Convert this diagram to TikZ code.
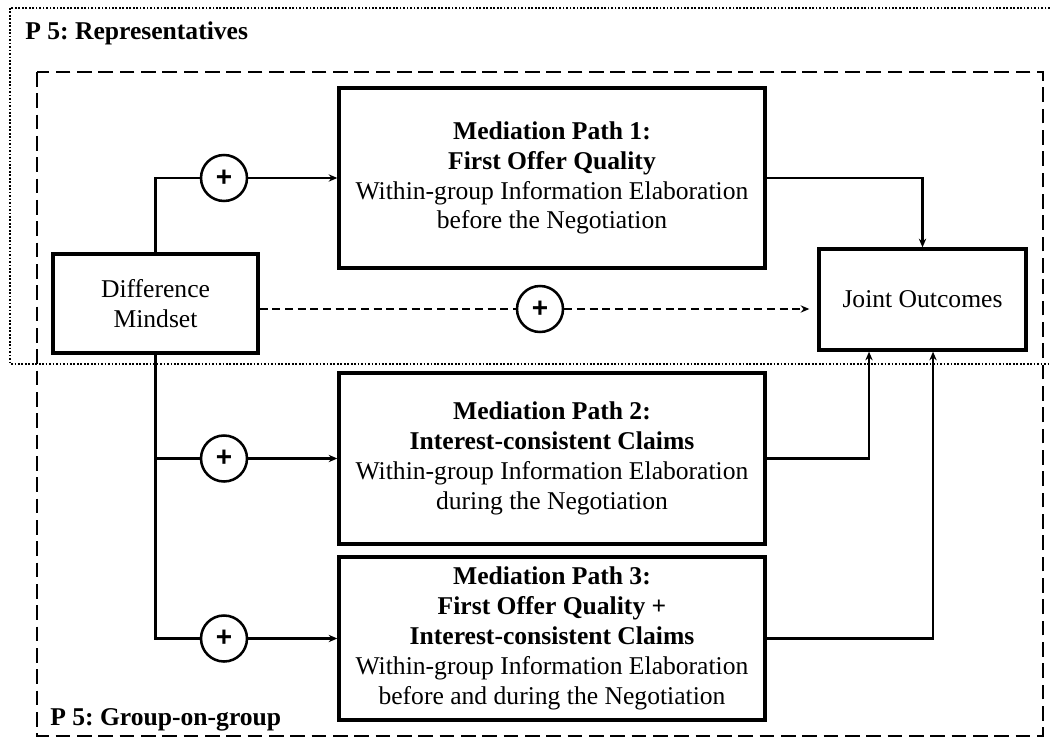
\documentclass[tikz,border=0pt]{standalone}
\usepackage{fontspec}
\setmainfont{Liberation Serif}
\newfontfamily\signfont{Liberation Sans}
\frenchspacing
\usetikzlibrary{arrows.meta,calc}

\tikzset{
  box/.style={draw, line width=2.5pt, rectangle, align=center, inner sep=0pt,
    font=\fontsize{19.2}{22.4}\selectfont},
  pathbox/.style={box, minimum width=319.5pt},
  plus/.style={draw, circle, line width=1.9pt, minimum size=34.5pt, inner sep=0pt,
    font=\fontsize{21}{21}\signfont\bfseries},
  link/.style={line width=1.9pt},
  arr/.style={link, -{Stealth[length=6.5pt,width=5.5pt]}},
  dlink/.style={link, dash pattern=on 6pt off 3.5pt},
  darr/.style={dlink, -{Stealth[length=6.5pt,width=5.5pt]}, shorten >=6pt},
  frame label/.style={anchor=base west, inner sep=0pt,
    font=\fontsize{19.2}{22}\selectfont\bfseries},
}

\begin{document}
\begin{tikzpicture}[x=0.75pt, y=-0.75pt]
\useasboundingbox (0,0) rectangle (1050,738);
\fill[white] (0,0) rectangle (1050,738);
\clip (0,0) rectangle (1050,738);

% group frames
\draw[line width=1.6pt, dash pattern=on 1.3pt off 1.3pt] (10,8) rectangle (1070,364);
\draw[line width=1.9pt, dash pattern=on 11pt off 5pt] (37,72) rectangle (1043,736);
\node[frame label] (repr) at (25,40) {P 5: Representatives};
\node[frame label] (gog) at (50,725) {P 5: Group-on-group};

% boxes
\node[box, minimum width=153.75pt, minimum height=74.25pt] (dm) at (155.5,303.5)
  {Difference\\Mindset};
\node[box, minimum width=155.25pt, minimum height=75.75pt] (jo) at (922.5,299.5)
  {Joint Outcomes};
\node[pathbox, minimum height=135pt] (p1) at (552,178)
  {\textbf{Mediation Path 1:}\\\textbf{First Offer Quality}\\Within-group Information Elaboration\\before the Negotiation};
\node[pathbox, minimum height=128.25pt] (p2) at (552,458.5)
  {\textbf{Mediation Path 2:}\\\textbf{Interest-consistent Claims}\\Within-group Information Elaboration\\during the Negotiation};
\node[pathbox, minimum height=122.25pt] (p3) at (552,638.5)
  {\textbf{Mediation Path 3:}\\\textbf{First Offer Quality +}\\\textbf{Interest-consistent Claims}\\Within-group Information Elaboration\\before and during the Negotiation};

% sign markers
\node[plus] (c1) at (224,178) {+};
\node[plus] (c2) at (224,458.5) {+};
\node[plus] (c3) at (224,638.5) {+};
\node[plus] (c0) at (540,309) {+};

% mindset to mediators
\draw[link] (dm.north) |- (c1.west);
\draw[arr] (c1.east) -- (p1.west);
\draw[link] (dm.south) |- (c3.west);
\draw[link] (dm.south |- c2) -- (c2.west);
\draw[arr] (c2.east) -- (p2.west);
\draw[arr] (c3.east) -- (p3.west);

% direct effect
\draw[dlink] (dm.east |- c0) -- (c0.west);
\draw[darr] (c0.east) -- (jo.west |- c0);

% mediators to outcomes
\draw[arr] (p1.east) -| (jo.north);
\draw[arr] (p2.east) -| ([xshift=-40.1pt]jo.south);
\draw[arr] (p3.east) -| ([xshift=7.9pt]jo.south);
\end{tikzpicture}
\end{document}
